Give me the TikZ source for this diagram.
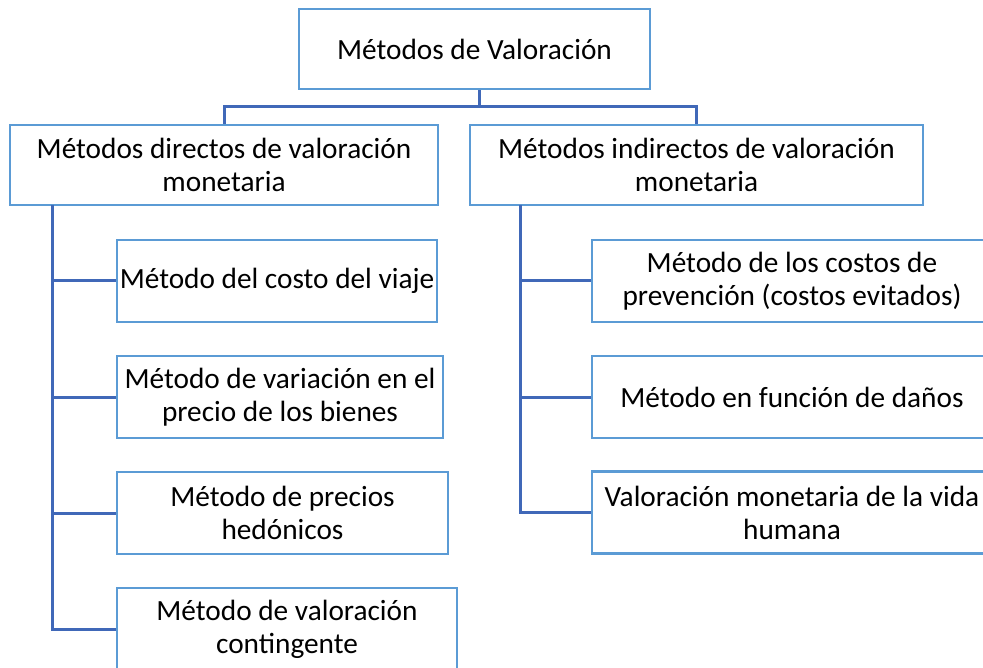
\documentclass[tikz,border=0pt]{standalone}
\usepackage{fontspec}
\setmainfont{Carlito}
\definecolor{boxblue}{HTML}{5B9BD5}
\definecolor{linkblue}{HTML}{4068B8}
\begin{document}
\begin{tikzpicture}[x=1pt,y=-1pt,
  box/.style={draw=boxblue, line width=2.4pt, fill=white, rectangle, inner sep=0pt,
    align=center, font=\fontsize{29.3}{33}\selectfont, text=black},
  link/.style={draw=linkblue, line width=3pt}]
\useasboundingbox (0,0) rectangle (983,668);
\clip (0,0) rectangle (983,668);
% nodes
\node[box, minimum width=351pt, minimum height=80pt] (top) at (474.5,49) {Métodos de Valoración};
\node[box, minimum width=428pt, minimum height=80pt] (L) at (224,165) {Métodos directos de valoración\\monetaria};
\node[box, minimum width=453pt, minimum height=80pt] (R) at (696.5,165) {Métodos indirectos de valoración\\monetaria};
\node[box, minimum width=320pt, minimum height=82pt] (l1) at (277,281) {Método del costo del viaje};
\node[box, minimum width=326pt, minimum height=82pt] (l2) at (280,397) {Método de variación en el\\precio de los bienes};
\node[box, minimum width=331pt, minimum height=82pt] (l3) at (282.5,513) {Método de precios\\hedónicos};
\node[box, minimum width=340pt, minimum height=82pt] (l4) at (287,629) {Método de valoración\\contingente};
\node[box, minimum width=400pt, minimum height=82pt] (r1) at (792,281) {Método de los costos de\\prevención (costos evitados)};
\node[box, minimum width=400pt, minimum height=82pt] (r2) at (792,397) {Método en función de daños};
\node[box, minimum width=400pt, minimum height=82pt] (r3) at (792,512.5) {Valoración monetaria de la vida\\humana};
% connectors
\coordinate (mid) at (479,107);
\draw[link] (top.south -| mid) -- (mid);
\draw[link] (mid) -| (L.north);
\draw[link] (mid) -| (R.north);
\coordinate (lt) at (52,205);
\coordinate (rt) at (520,205);
\draw[link] (lt) |- (l4.west);
\draw[link] (lt |- l1.west) -- (l1.west);
\draw[link] (lt |- l2.west) -- (l2.west);
\draw[link] (lt |- l3.west) -- (l3.west);
\draw[link] (rt) |- (r3.west);
\draw[link] (rt |- r1.west) -- (r1.west);
\draw[link] (rt |- r2.west) -- (r2.west);
\end{tikzpicture}
\end{document}
